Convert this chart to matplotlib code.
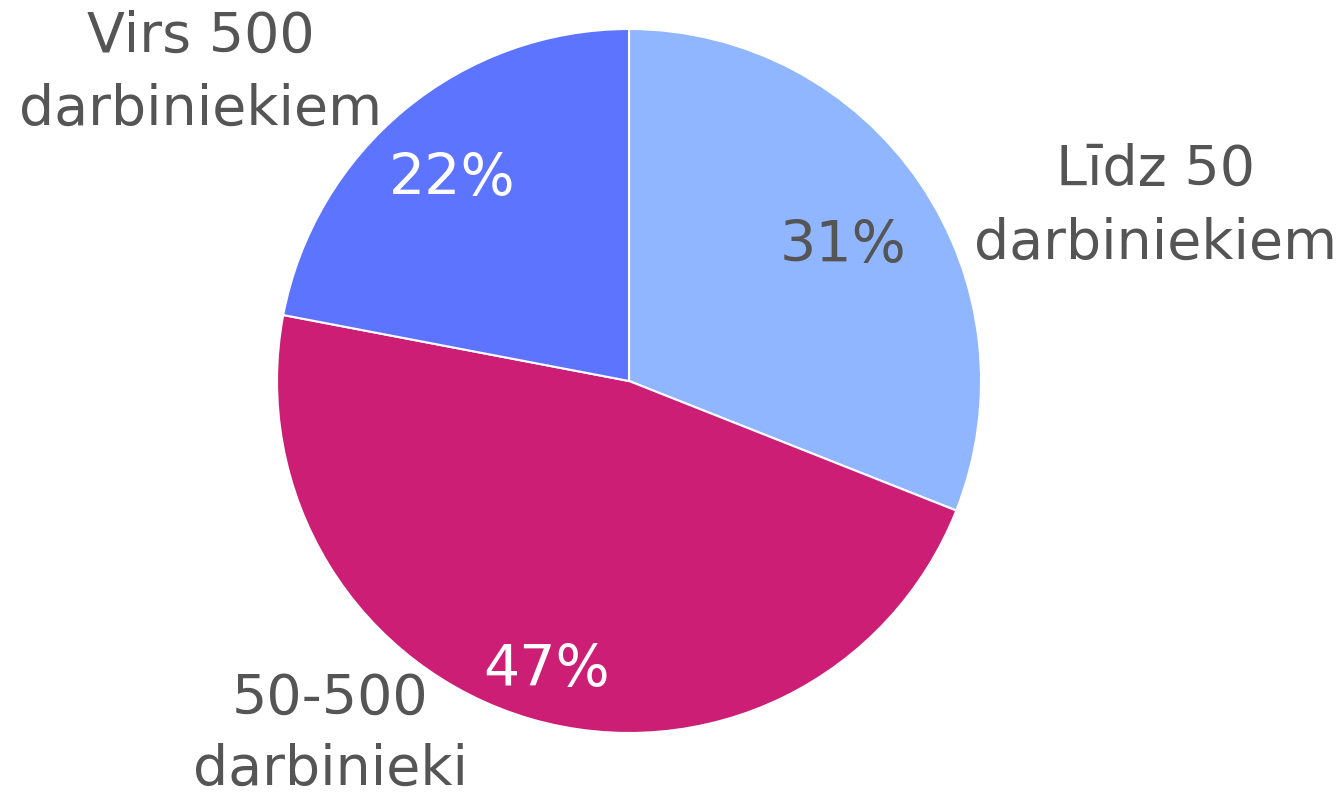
import matplotlib
matplotlib.use("Agg")
import matplotlib.pyplot as plt

categories = ["Līdz 50\ndarbiniekiem", "50-500\ndarbinieki", "Virs 500\ndarbiniekiem"]
values = [31, 47, 22]
colors = ["#8FB6FF", "#CC1E74", "#5C74FF"]
pct_colors = ["#555555", "#FFFFFF", "#FFFFFF"]

W, H = 1341, 795
fig = plt.figure(figsize=(W / 100, H / 100), dpi=100)
cx, cy, R = 629, 381, 352
ax = fig.add_axes([(cx - R) / W, (H - cy - R) / H, 2 * R / W, 2 * R / H])

ax.pie(values, colors=colors, startangle=90, counterclock=False, radius=1,
       wedgeprops=dict(edgecolor="white", linewidth=1.5))
ax.set_xlim(-1, 1)
ax.set_ylim(-1, 1)
ax.set_aspect("equal")
ax.axis("off")

def px(x, y):
    return (x - cx) / R, (cy - y) / R

font = "DejaVu Sans"
# category label line positions (center x, baselines) in pixels
label_pos = [(1156, [185, 259]), (330, [714, 785]), (201, [52, 125])]
for cat, (x, bls) in zip(categories, label_pos):
    for line, b in zip(cat.split("\n"), bls):
        dx, dy = px(x, b)
        ax.text(dx, dy, line, ha="center", va="baseline", fontsize=40,
                color="#555555", family=font, clip_on=False)

pct_pos = [(843, 262), (547, 686), (452, 195)]
for v, c, (x, b) in zip(values, pct_colors, pct_pos):
    dx, dy = px(x, b)
    ax.text(dx, dy, f"{v}%", ha="center", va="baseline", fontsize=41,
            color=c, family=font, clip_on=False)

fig.savefig("out.png", dpi=100, facecolor="white")
